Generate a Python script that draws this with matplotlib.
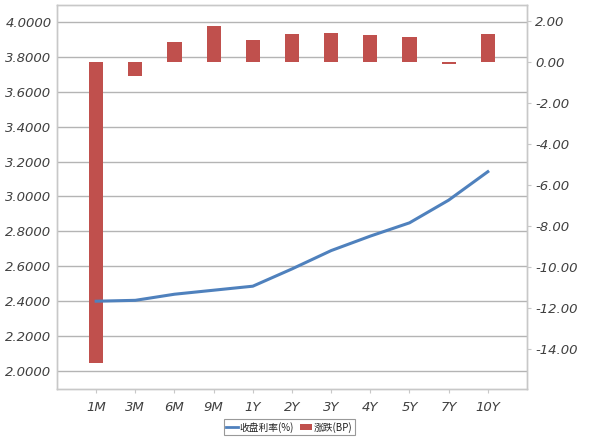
import numpy as np
import matplotlib
matplotlib.use("Agg")
import matplotlib.pyplot as plt

# tenors, yield (%) on the left axis and change (BP) on the right axis
tenors = ["1M", "3M", "6M", "9M", "1Y", "2Y", "3Y", "4Y", "5Y", "7Y", "10Y"]
yields = [2.400, 2.405, 2.440, 2.463, 2.486, 2.585, 2.690, 2.773, 2.849, 2.979, 3.142]
changes = [-14.66, -0.66, 0.97, 1.75, 1.05, 1.36, 1.40, 1.31, 1.23, -0.12, 1.36]
left_ticks = [2.0, 2.2, 2.4, 2.6, 2.8, 3.0, 3.2, 3.4, 3.6, 3.8, 4.0]
right_ticks = [-14, -12, -10, -8, -6, -4, -2, 0, 2]

line_color = "#4f81bd"
bar_color = "#c0504d"
grid_color = "#b4b4b4"
spine_color = "#c8c8c8"
text_color = "#404040"

fig = plt.figure(figsize=(5.9, 4.43), dpi=100)
ax = fig.add_axes([0.0966, 0.1219, 0.7966, 0.8668])
ax2 = ax.twinx()

x = np.arange(len(tenors))

## bars on the right axis, drawn behind the line
ax2.bar(x, changes, width=0.36, color=bar_color, zorder=2)
ax2.set_ylim(-15.95, 2.78)
ax2.set_yticks(right_ticks)
ax2.set_yticklabels(["%.2f" % v for v in right_ticks])

## line on the left axis
ax.set_zorder(ax2.get_zorder() + 1)
ax.patch.set_visible(False)
ax.plot(x, yields, color=line_color, linewidth=2.2, zorder=3)
ax.set_ylim(1.897, 4.097)
ax.set_yticks(left_ticks)
ax.set_yticklabels(["%.4f" % v for v in left_ticks])
ax.set_xlim(-1, len(tenors))
ax.set_xticks(x)
ax.set_xticklabels(tenors)

# gridlines from the left axis, drawn on the bar axes so they stay behind
for v in left_ticks:
    ax2.axhline((v - 1.897) / 2.2 * (2.78 + 15.95) - 15.95,
                color=grid_color, linewidth=1.0, zorder=1)

for a in (ax, ax2):
    for s in a.spines.values():
        s.set_color(spine_color)
        s.set_linewidth(1.0)
ax.tick_params(axis="y", length=0, pad=4, labelsize=9.5, labelcolor=text_color)
ax.tick_params(axis="x", length=3, color=spine_color, pad=6,
               labelsize=9.5, labelcolor=text_color)
ax2.tick_params(axis="y", length=3, color=spine_color, pad=3,
                labelsize=9.5, labelcolor=text_color)
for lab in ax.get_xticklabels() + ax.get_yticklabels() + ax2.get_yticklabels():
    lab.set_fontstyle("italic")

## legend
from matplotlib.lines import Line2D
from matplotlib.patches import Patch
handles = [Line2D([0], [0], color=line_color, linewidth=2),
           Patch(facecolor=bar_color)]
leg = fig.legend(handles, ["收盘利率(%)", "涨跌(BP)"], loc="center",
                 bbox_to_anchor=(0.49, 0.036), ncol=2, frameon=True,
                 fancybox=False, handlelength=1.2, handleheight=0.5,
                 handletextpad=0.2, columnspacing=0.6, borderpad=0.25,
                 prop={"family": ["Noto Sans CJK SC", "DejaVu Sans"], "size": 7})
leg.get_frame().set_edgecolor("#808080")
leg.get_frame().set_linewidth(0.8)
for t in leg.get_texts():
    t.set_color("#202020")

fig.savefig("out.png", dpi=100)
